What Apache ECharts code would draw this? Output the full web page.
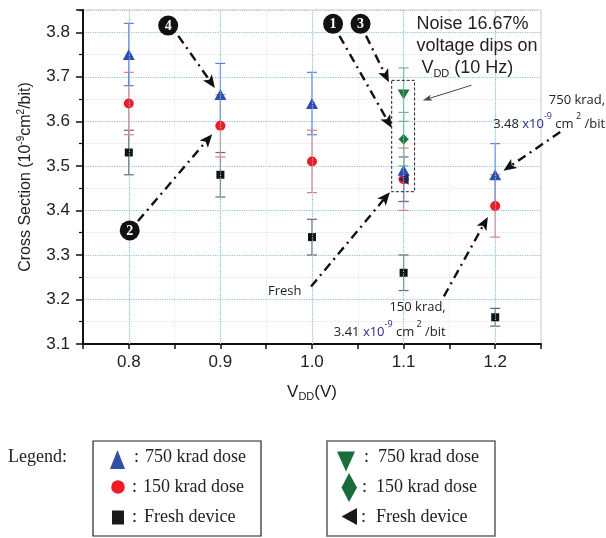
<!DOCTYPE html>
<html><head><meta charset="utf-8">
<script src="https://cdn.jsdelivr.net/npm/echarts@6/dist/echarts.min.js"></script>
<style>html,body{margin:0;padding:0;background:#fff}#c{width:606px;height:538px}</style>
</head><body><div id="c"></div>
<script>
// ---- data ----
const vdd = [0.8, 0.9, 1.0, 1.1, 1.2];
const xTickLabels = ['0.8', '0.9', '1.0', '1.1', '1.2'];
const dose750 = [3.75, 3.66, 3.64, 3.49, 3.48];
const err750 = [0.07, 0.07, 0.07, 0.07, 0.07];
const dose150 = [3.64, 3.59, 3.51, 3.47, 3.41];
const err150 = [0.07, 0.07, 0.07, 0.07, 0.07];
const fresh = [3.53, 3.48, 3.34, 3.26, 3.16];
const errFresh = [0.05, 0.05, 0.04, 0.04, 0.02];
const noiseVdd = [1.1];
const noise750 = [3.66];
const noise750Err = [0.06];
const noise150 = [3.56];
const noise150Err = [0.06];
const noiseFresh = [3.47];
const noiseFreshErr = [0.05];

// annotations in data coordinates
const badges = [[0.843, 3.815, '4'], [0.801, 3.355, '2'], [1.023, 3.819, '1'], [1.053, 3.819, '3']];
const dashArrows = [
  [[0.854, 3.792], [0.894, 3.675]],
  [[0.810, 3.376], [0.891, 3.571]],
  [[1.030, 3.792], [1.087, 3.585]],
  [[1.059, 3.792], [1.084, 3.688]],
  [[0.999, 3.229], [1.085, 3.441]],
  [[1.144, 3.207], [1.192, 3.385]],
  [[1.271, 3.576], [1.209, 3.489]]
];
const noiseArrow = [[1.174, 3.681], [1.121, 3.647]];
const noiseBox = [[1.087, 3.692], [1.112, 3.442]];

const chart = echarts.init(document.getElementById('c'), null, {renderer: 'canvas'});

function zip(xs, ys) { return xs.map((x, i) => [x, ys[i]]); }
function errData(xs, ys, es) { return xs.map((x, i) => [x, ys[i] - es[i], ys[i] + es[i]]); }
function errRender(color) {
  return function (params, api) {
    const x = api.value(0), lo = api.value(1), hi = api.value(2);
    const a = api.coord([x, hi]), b = api.coord([x, lo]);
    const w = 5, st = {stroke: color, lineWidth: 1.2};
    return {type: 'group', children: [
      {type: 'line', shape: {x1: a[0], y1: a[1], x2: b[0], y2: b[1]}, style: st},
      {type: 'line', shape: {x1: a[0] - w, y1: a[1], x2: a[0] + w, y2: a[1]}, style: st},
      {type: 'line', shape: {x1: b[0] - w, y1: b[1], x2: b[0] + w, y2: b[1]}, style: st}
    ]};
  };
}
function errSeries(xs, ys, es, color) {
  return {type: 'custom', data: errData(xs, ys, es), renderItem: errRender(color),
    encode: {x: 0, y: [1, 2]}, z: 2, silent: true};
}
function scatter(xs, ys, symbol, size, color, rotate) {
  return {type: 'scatter', data: zip(xs, ys), symbol: symbol, symbolSize: size,
    symbolRotate: rotate || 0, itemStyle: {color: color, opacity: 1}, z: 4, silent: true};
}

const option = {
  animation: false,
  grid: {left: 83, right: 65, top: 10, bottom: 194, show: true, borderColor: '#c8c8c8', borderWidth: 1},
  xAxis: {
    type: 'value', min: 0.75, max: 1.25, interval: 0.05,
    name: '{a|V}{sub|DD}{a|(V)}', nameLocation: 'middle', nameGap: 38,
    nameTextStyle: {rich: {
      a: {fontFamily: 'Liberation Sans', fontSize: 17, color: '#222', lineHeight: 20},
      sub: {fontFamily: 'Liberation Sans', fontSize: 11, color: '#222', lineHeight: 10, verticalAlign: 'bottom'}
    }},
    axisLine: {lineStyle: {color: '#111', width: 2}},
    axisTick: {length: 5, lineStyle: {color: '#111', width: 1.5}},
    axisLabel: {fontFamily: 'Liberation Sans', fontSize: 17, color: '#222', margin: 10,
      formatter: function (v) {
        const i = vdd.findIndex(t => Math.abs(t - v) < 1e-6);
        return i >= 0 ? xTickLabels[i] : '';
      }},
    splitLine: {show: true, lineStyle: {color: '#e6e6e6', type: 'dotted', width: 1}}
  },
  yAxis: {
    type: 'value', min: 3.1, max: 3.85, interval: 0.1,
    name: '{a|Cross Section (10}{sup|-9}{a|cm}{sup|2}{a|/bit)}', nameLocation: 'middle', nameGap: 47,
    nameTextStyle: {rich: {
      a: {fontFamily: 'Liberation Sans', fontSize: 16, color: '#222', lineHeight: 20},
      sup: {fontFamily: 'Liberation Sans', fontSize: 10, color: '#222', lineHeight: 10, verticalAlign: 'top'}
    }},
    axisLine: {show: true, lineStyle: {color: '#111', width: 2}},
    axisTick: {show: true, length: 7, lineStyle: {color: '#111', width: 1.5}},
    minorTick: {show: true, splitNumber: 2, length: 4, lineStyle: {color: '#111', width: 1.2}},
    axisLabel: {fontFamily: 'Liberation Sans', fontSize: 17, color: '#222', margin: 13,
      showMaxLabel: false, formatter: v => (Math.abs(v * 10 - Math.round(v * 10)) < 1e-6 ? v.toFixed(1) : '')},
    splitLine: {show: true, lineStyle: {color: '#8fc3de', type: 'dotted', width: 1.2}},
    minorSplitLine: {show: true, lineStyle: {color: '#e6e6e6', type: 'dotted', width: 1}}
  },
  series: [
    {type: 'line', data: [], markLine: {silent: true, symbol: 'none', label: {show: false},
      lineStyle: {color: '#8fc3de', type: 'dotted', width: 1.2},
      data: vdd.map(v => ({xAxis: v}))}},
    errSeries(vdd, fresh, errFresh, '#6a6a6a'),
    errSeries(vdd, dose150, err150, '#e87a7a'),
    errSeries(vdd, dose750, err750, '#5f80d8'),
    errSeries(noiseVdd, noiseFresh, noiseFreshErr, '#6a6a8a'),
    errSeries(noiseVdd, noise150, noise150Err, '#6cb884'),
    errSeries(noiseVdd, noise750, noise750Err, '#6cb884'),
    scatter(vdd, fresh, 'rect', 8, '#111'),
    scatter(vdd, dose150, 'circle', 10, '#ee1c24'),
    scatter(vdd, dose750, 'triangle', [12, 11], '#2d4cb0'),
    scatter(noiseVdd, noiseFresh, 'triangle', [11, 10], '#252560', 90),
    scatter(noiseVdd, noise150, 'diamond', [10, 11], '#1e7a3c'),
    scatter(noiseVdd, noise750, 'triangle', [12, 10], '#1e7a3c', 180)
  ]
};
chart.setOption(option);

// ---- annotations ----
function px(p) { return chart.convertToPixel({gridIndex: 0}, p); }
function arrow(p0, p1, o) {
  const a = px(p0), b = px(p1);
  const dx = b[0] - a[0], dy = b[1] - a[1], L = Math.hypot(dx, dy), ux = dx / L, uy = dy / L;
  const hl = o.head, hw = o.headW / 2;
  const bx = b[0] - ux * hl, by = b[1] - uy * hl;
  const ix = b[0] - ux * (hl - o.notch), iy = b[1] - uy * (hl - o.notch);
  return [
    {type: 'line', shape: {x1: a[0], y1: a[1], x2: ix, y2: iy},
      style: {stroke: o.color, lineWidth: o.width, lineDash: o.dash || null}, z: 50},
    {type: 'polygon', shape: {points: [[b[0], b[1]], [bx - uy * hw, by + ux * hw], [ix, iy], [bx + uy * hw, by - ux * hw]]},
      style: {fill: o.color}, z: 50}
  ];
}
const g = [];
dashArrows.forEach(d => g.push(...arrow(d[0], d[1], {color: '#111', width: 2.4, dash: [9, 5, 2, 5], head: 13, headW: 11, notch: 3})));
g.push(...arrow(noiseArrow[0], noiseArrow[1], {color: '#444', width: 1, head: 9, headW: 6, notch: 2}));
const bA = px(noiseBox[0]), bB = px(noiseBox[1]);
g.push({type: 'rect', shape: {x: bA[0], y: bA[1], width: bB[0] - bA[0], height: bB[1] - bA[1]},
  style: {fill: 'none', stroke: '#222', lineWidth: 1, lineDash: [3, 2]}, z: 40});
badges.forEach(b => {
  const p = px([b[0], b[1]]);
  g.push({type: 'circle', shape: {cx: p[0], cy: p[1], r: 10}, style: {fill: '#111'}, z: 60});
  g.push({type: 'text', x: p[0], y: p[1] + 1, style: {text: b[2], fill: '#fff', font: 'bold 14px "Liberation Serif"',
    align: 'center', verticalAlign: 'middle'}, z: 61});
});
function txt(p, text, align, vAlign, rich, font, lh) {
  const q = px(p);
  return {type: 'text', x: q[0], y: q[1], z: 55, style: {text: text, align: align, verticalAlign: vAlign,
    font: font, fill: '#222', lineHeight: lh, rich: rich}};
}
const annRich = {
  a: {fontFamily: 'Open Sans', fontSize: 13, fill: '#222', lineHeight: 24},
  b: {fontFamily: 'Open Sans', fontSize: 13, fill: '#2a2a8a', lineHeight: 24},
  bs: {fontFamily: 'Open Sans', fontSize: 9, fill: '#2a2a8a', lineHeight: 16, verticalAlign: 'top'},
  s: {fontFamily: 'Open Sans', fontSize: 9, fill: '#222', lineHeight: 7, verticalAlign: 'top'}
};
g.push(txt([0.952, 3.218], '{a|Fresh}', 'left', 'middle', annRich, '13px "Open Sans"', 24));
g.push(txt([1.320, 3.648], '{a|750 krad,}', 'right', 'middle', annRich, '13px "Open Sans"', 24));
g.push(txt([1.320, 3.594], '{a|3.48 }{b|x10}{bs|-9}{a| cm}{s| 2}{a| /bit}', 'right', 'middle', annRich, '13px "Open Sans"', 24));
g.push(txt([1.146, 3.183], '{a|150 krad,}', 'right', 'middle', annRich, '13px "Open Sans"', 24));
g.push(txt([1.146, 3.127], '{a|3.41 }{b|x10}{bs|-9}{a| cm}{s| 2}{a| /bit}', 'right', 'middle', annRich, '13px "Open Sans"', 24));
const noiseRich = {
  n: {fontFamily: 'Liberation Sans', fontSize: 18, fill: '#222', lineHeight: 22},
  sub: {fontFamily: 'Liberation Sans', fontSize: 11, fill: '#222', lineHeight: 11, verticalAlign: 'bottom'}
};
g.push(txt([1.114, 3.843], '{n|Noise 16.67%}\n{n|voltage dips on}\n{n| V}{sub|DD}{n| (10 Hz)}', 'left', 'top', noiseRich, '18px "Liberation Sans"', 22));

// ---- legend (page layout) ----
const serif = '18px "Liberation Serif"';
function ltxt(x, y, t) { return {type: 'text', x: x, y: y, style: {text: t, font: serif, fill: '#222', verticalAlign: 'middle'}}; }
g.push(ltxt(8, 457, 'Legend:'));
g.push({type: 'rect', shape: {x: 93, y: 441, width: 168, height: 95}, style: {fill: 'none', stroke: '#222', lineWidth: 1.2}});
g.push({type: 'rect', shape: {x: 327, y: 441, width: 168, height: 95}, style: {fill: 'none', stroke: '#666', lineWidth: 1.6}});
const rows = [457, 487, 517];
g.push({type: 'polygon', shape: {points: [[117.5, 450], [110, 469], [125, 469]]}, style: {fill: '#2f4fa8'}});
g.push({type: 'circle', shape: {cx: 118, cy: 487, r: 6.8}, style: {fill: '#ee1c24'}});
g.push({type: 'rect', shape: {x: 112, y: 510.5, width: 12, height: 14}, style: {fill: '#1a1a1a'}});
g.push(ltxt(134, rows[0], ':'), ltxt(145, rows[0], '750 krad dose'));
g.push(ltxt(132, rows[1], ':'), ltxt(143, rows[1], '150 krad dose'));
g.push(ltxt(132, rows[2], ':'), ltxt(144, rows[2], 'Fresh device'));
g.push({type: 'polygon', shape: {points: [[337, 451.5], [355, 451.5], [346, 471.5]]}, style: {fill: '#1a6e3a'}});
g.push({type: 'polygon', shape: {points: [[349, 473], [357, 487.5], [349, 502], [341.5, 487.5]]}, style: {fill: '#1a6a3a'}});
g.push({type: 'polygon', shape: {points: [[341.5, 516.5], [357, 508], [357, 525]]}, style: {fill: '#1a1a1a'}});
g.push(ltxt(364, rows[0], ':'), ltxt(378, rows[0], '750 krad dose'));
g.push(ltxt(362, rows[1], ':'), ltxt(376, rows[1], '150 krad dose'));
g.push(ltxt(361, rows[2], ':'), ltxt(376, rows[2], 'Fresh device'));

chart.setOption({graphic: g});
</script></body></html>
